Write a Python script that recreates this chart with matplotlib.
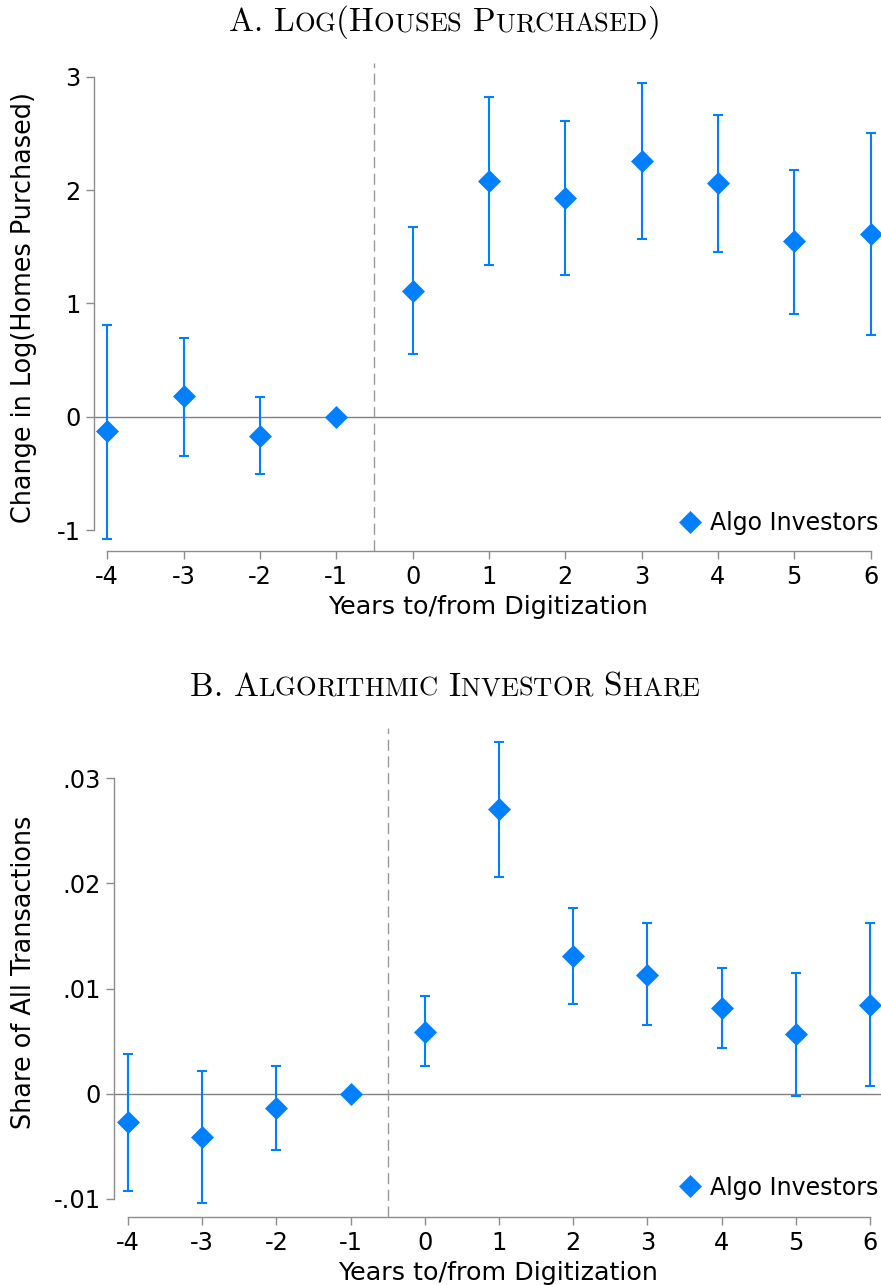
import numpy as np
import matplotlib
matplotlib.use('Agg')
import matplotlib.pyplot as plt
from matplotlib import font_manager, ft2font

BLUE = '#0080FF'
AXIS_GREY = '#8c8c8c'

years = [-4, -3, -2, -1, 0, 1, 2, 3, 4, 5, 6]
year_labels = ['-4', '-3', '-2', '-1', '0', '1', '2', '3', '4', '5', '6']

# panel A: log(homes purchased), year -1 is the omitted reference year
homes_est = [-0.13, 0.18, -0.17, 0.0, 1.11, 2.08, 1.93, 2.26, 2.06, 1.55, 1.61]
homes_lo = [-1.08, -0.345, -0.51, None, 0.55, 1.34, 1.25, 1.57, 1.45, 0.91, 0.72]
homes_hi = [0.81, 0.69, 0.17, None, 1.675, 2.82, 2.605, 2.94, 2.665, 2.18, 2.505]
homes_ticks = [-1, 0, 1, 2, 3]
homes_tick_labels = ['-1', '0', '1', '2', '3']

# panel B: algorithmic investor share of all transactions
share_est = [-0.0027, -0.0041, -0.0014, 0.0, 0.0059, 0.0271, 0.0131, 0.0113, 0.0081, 0.0057, 0.0084]
share_lo = [-0.0093, -0.0104, -0.0054, None, 0.0026, 0.0206, 0.0085, 0.0065, 0.0043, -0.0002, 0.0007]
share_hi = [0.0038, 0.0022, 0.0026, None, 0.0093, 0.0335, 0.0177, 0.0162, 0.0120, 0.0115, 0.0162]
share_ticks = [-0.01, 0, 0.01, 0.02, 0.03]
share_tick_labels = ['-.01', '0', '.01', '.02', '.03']

W, H = 881, 1285


def small_caps_title(fig, x_center, y_base, text, size, ratio=0.8):
    # emulate \textsc: lower case letters become smaller capitals
    path = font_manager.findfont(font_manager.FontProperties(family='cmr10'))
    ft = ft2font.FT2Font(path)
    chars = []
    for ch in text:
        s = size * ratio if ch.islower() else size
        ft.set_size(s, fig.dpi)
        adv = ft.load_char(ord(ch.upper())).linearHoriAdvance / 65536
        chars.append((ch.upper(), s, adv))
    total = sum(c[2] for c in chars)
    x = x_center - total / 2
    for ch, s, adv in chars:
        if ch != ' ':
            fig.text(x / W, 1 - y_base / H, ch, fontsize=s, family='cmr10',
                     ha='left', va='baseline')
        x += adv


def draw_panel(ax, est, lo, hi, yticks, yticklabels, ylabel, ylim, xlim, ylab_x, legend_xy):
    x = np.array(years, dtype=float)
    est = np.array(est, dtype=float)
    lo = np.array([np.nan if v is None else v for v in lo])
    hi = np.array([np.nan if v is None else v for v in hi])
    has_ci = ~np.isnan(lo)

    ax.axhline(0, color='#808080', lw=1.0, zorder=1)
    ax.axvline(-0.5, color='#999999', lw=1.0, linestyle=(0, (8, 4)), zorder=1)

    ax.errorbar(x[has_ci], est[has_ci],
                yerr=[est[has_ci] - lo[has_ci], hi[has_ci] - est[has_ci]],
                fmt='none', ecolor=BLUE, elinewidth=1.5, capsize=3.4, capthick=1.5, zorder=2)
    ax.plot(x, est, linestyle='', marker='D', ms=10.8, color=BLUE,
            mec=BLUE, mew=0.5, zorder=3, label='Algo Investors')

    ax.set_xlim(*xlim)
    ax.set_ylim(*ylim)
    ax.set_xticks(years)
    ax.set_xticklabels(year_labels)
    ax.set_yticks(yticks)
    ax.set_yticklabels(yticklabels)

    for side in ['top', 'right']:
        ax.spines[side].set_visible(False)
    for side in ['left', 'bottom']:
        ax.spines[side].set_color(AXIS_GREY)
        ax.spines[side].set_linewidth(1.0)
    ax.spines['left'].set_bounds(yticks[0], yticks[-1])
    ax.spines['bottom'].set_bounds(years[0], years[-1])

    ax.tick_params(axis='both', colors=AXIS_GREY, labelcolor='black',
                   length=5.5, width=1.0, labelsize=17.3)
    ax.tick_params(axis='y', pad=4)
    ax.tick_params(axis='x', pad=4.5)

    ax.set_ylabel(ylabel, fontsize=18.4)
    ax.yaxis.set_label_coords(ylab_x, 0.5)
    ax.set_xlabel('Years to/from Digitization', fontsize=18.3)
    ax.xaxis.set_label_coords(0.5, -0.09)

    ax.legend(loc='center right', bbox_to_anchor=legend_xy, frameon=False,
              fontsize=17, handlelength=1.0, handletextpad=0.35,
              borderpad=0, borderaxespad=0)


fig = plt.figure(figsize=(W / 100, H / 100), dpi=100)

ax_a = fig.add_axes([94 / W, 1 - 551 / H, 787 / W, 487.7 / H])
draw_panel(ax_a, homes_est, homes_lo, homes_hi, homes_ticks, homes_tick_labels,
           'Change in Log(Homes Purchased)', (-1.185, 3.118), (-4.174, 6.136),
           -0.0718, (0.9962, 0.0574))

ax_b = fig.add_axes([114.3 / W, 1 - 1216.7 / H, 766.7 / W, 488.4 / H])
draw_panel(ax_b, share_est, share_lo, share_hi, share_ticks, share_tick_labels,
           'Share of All Transactions', (-0.01171, 0.03476), (-4.185, 6.148),
           -0.1002, (0.9961, 0.0594))

small_caps_title(fig, 444, 31, 'A. Log(Houses Purchased)', 23.9)
small_caps_title(fig, 444.5, 695.7, 'B. Algorithmic Investor Share', 23.9)

fig.savefig('out.png', dpi=100)
